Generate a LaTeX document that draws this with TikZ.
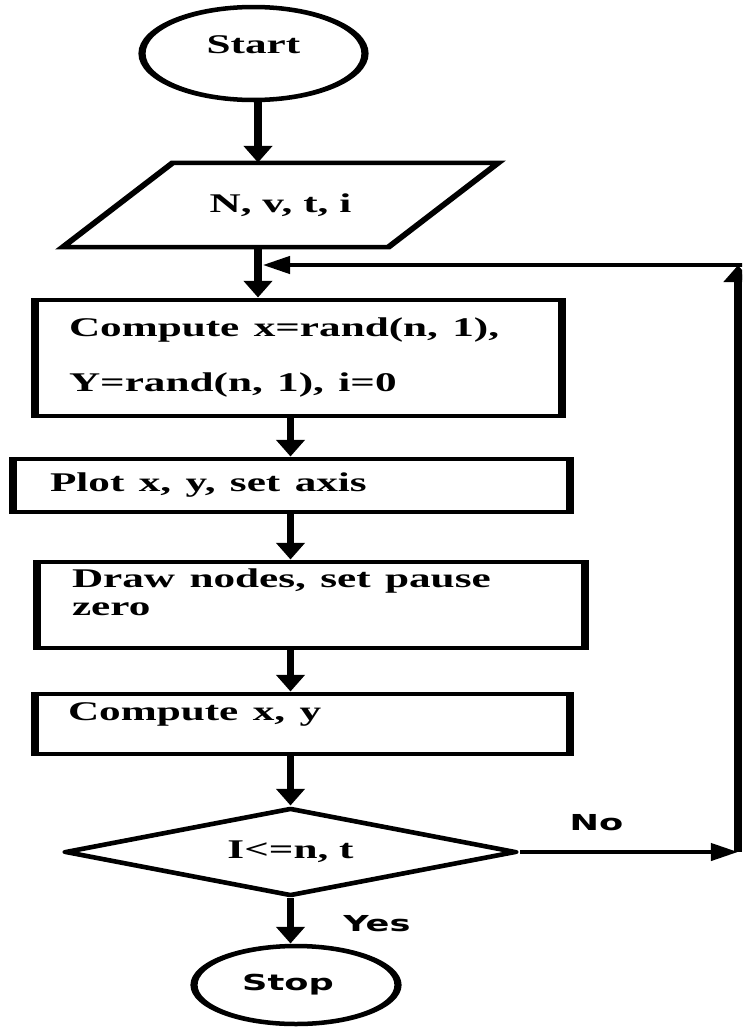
\documentclass[tikz,border=0pt]{standalone}
\usepackage{fontspec}
\setmainfont{Liberation Serif}
\newfontfamily\labelsans{DejaVu Sans}
\usetikzlibrary{arrows.meta,shapes.geometric,calc}

\tikzset{
  outline/.style={draw=black, line width=4.5pt},
  serifbold/.style={font=\bfseries\fontsize{27}{30}\selectfont},
  sansbold/.style={font=\labelsans\bfseries\fontsize{22}{26}\selectfont},
  procbox/.style={outline, rectangle, inner ysep=0pt, align=left, serifbold},
  terminal/.style={outline, ellipse, inner sep=0pt},
  decision/.style={outline, diamond, inner sep=0pt, line join=round, serifbold},
  arr/.style={line width=4.5pt, -{Triangle[width=17pt,length=17pt]}},
}

\begin{document}
\begin{tikzpicture}[x=1pt,y=-1pt]
  \useasboundingbox (0,0) rectangle (742,1028);
  \fill[white] (0,0) rectangle (742,1028);
  \clip (0,0) rectangle (742,1028);

  % the whole chart is drawn 1.6 times wider than tall
  \begin{scope}[x=0.625pt, transform canvas={xscale=1.6}]
    \coordinate (ax1) at (258,0);
    \coordinate (ax2) at (290.5,0);

    % terminals, input and process blocks
    \node[terminal, serifbold, minimum width=139.375pt, minimum height=93pt,
          text height=19pt, text depth=19pt] (start) at (253.5,53.5) {Start};

    \node[inner sep=0pt, minimum width=203.125pt, minimum height=84pt, serifbold]
          (inp) at (280.5,205) {N, v, t, i};
    \draw[outline] ($(inp.north west)+(55,0)$) -- ($(inp.north east)+(55,0)$)
      -- ($(inp.south east)-(55,0)$) -- ($(inp.south west)-(55,0)$) -- cycle;

    \node[procbox, font=\bfseries\fontsize{27}{55}\selectfont,
          minimum width=329.375pt, minimum height=116pt,
          inner xsep=21.25pt, text width=286.875pt] (r1) at (298.5,358)
          {Compute x=rand(n, 1),\\Y=rand(n, 1), i=0};

    \node[procbox, minimum width=348.125pt, minimum height=53pt,
          inner xsep=23.125pt, text width=301.875pt] (r2) at (291.5,485.5)
          {Plot x, y, set axis};

    \node[procbox, font=\bfseries\fontsize{27}{28}\selectfont,
          minimum width=342.5pt, minimum height=86pt,
          inner xsep=21.875pt, text width=298.75pt] (r3) at (311,605)
          {Draw nodes, set pause\\zero\rule[-26pt]{0pt}{0pt}};

    \node[procbox, minimum width=334.375pt, minimum height=60pt,
          inner xsep=20.625pt, text width=293.125pt] (r4) at (302.5,724)
          {Compute x, y\rule[-24pt]{0pt}{0pt}};

    \node[decision, minimum width=282.5pt, minimum height=88pt, shape aspect=3.2]
          (dec) at (290.5,852) {I<=n, t};

    \node[terminal, sansbold, minimum width=127.5pt, minimum height=78pt]
          (stop) at (296,985) {Stop\hspace*{10pt}};

    % loop corners
    \coordinate (cBR) at (738,852);
    \coordinate (cTR) at (738,265);
    \coordinate (cTE) at (746,265);

    % connectors
    \draw[arr] (start.south -| ax1) -- (inp.north -| ax1);
    \draw[arr] (inp.south -| ax1) -- (r1.north -| ax1);
    \draw[arr] (r1.south -| ax2) -- (r2.north -| ax2);
    \draw[arr] (r2.south -| ax2) -- (r3.north -| ax2);
    \draw[arr] (r3.south -| ax2) -- (r4.north -| ax2);
    \draw[arr] (r4.south -| ax2) -- (dec.north);
    \draw[arr] (dec.south) -- (dec.south |- stop.north)
      node[sansbold, pos=0.72, anchor=base, xshift=54pt] (yes) {Yes};
    \draw[arr] (dec.east) -- (cBR)
      node[sansbold, pos=0.35, anchor=base, yshift=22pt] (no) {No};
    \draw[arr] (cBR) -- (cTR);
    \draw[arr, shorten >=3pt] (cTE) -- (ax1 |- cTE);
  \end{scope}
\end{tikzpicture}
\end{document}
